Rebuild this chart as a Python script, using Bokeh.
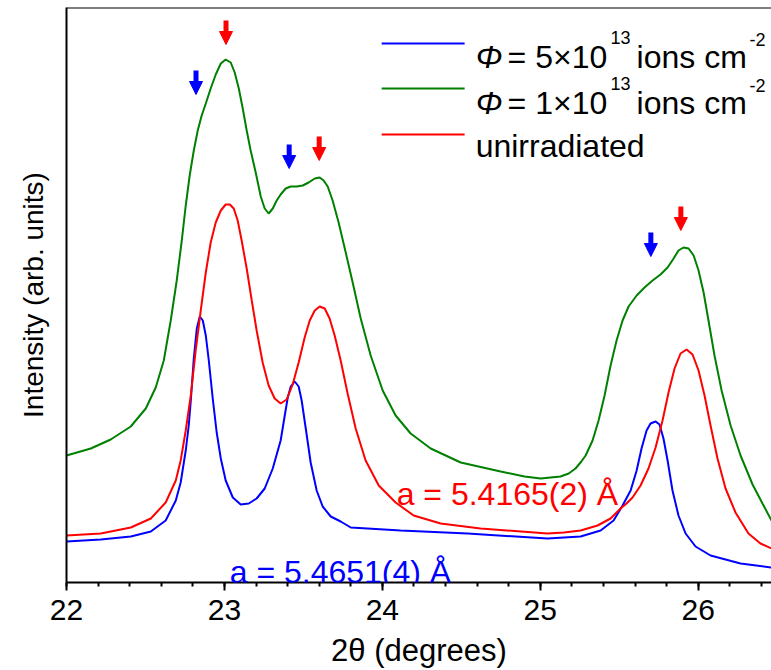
from bokeh.plotting import figure
from bokeh.models import (Label, Arrow, NormalHead, SingleIntervalTicker, Range1d,
                          FixedTicker, Span)
from bokeh.embed import file_html
from bokeh.resources import INLINE

FONT = "Liberation Sans"

# ---- data (2theta in degrees, intensity in arbitrary units) ----
blue_x = [22.00, 22.217, 22.407, 22.534, 22.628, 22.692, 22.723, 22.755, 22.774, 22.787,
          22.806, 22.825, 22.844, 22.863, 22.882, 22.901, 22.926, 22.951, 22.977, 23.008,
          23.053, 23.103, 23.154, 23.204, 23.255, 23.306, 23.356, 23.382, 23.401, 23.420,
          23.445, 23.470, 23.489, 23.515, 23.546, 23.584, 23.622, 23.673, 23.736, 23.80,
          24.116, 24.54, 25.046, 25.255, 25.382, 25.464, 25.521, 25.572, 25.610, 25.641,
          25.673, 25.698, 25.730, 25.755, 25.780, 25.806, 25.837, 25.875, 25.920, 25.983,
          26.078, 26.268, 26.464]
blue_y = [41, 43, 46, 51, 62, 82, 100, 132, 157, 182,
          224, 254, 266, 262, 247, 222, 184, 150, 124, 102,
          85, 78, 79, 84, 94, 114, 142, 167, 185, 196,
          201, 196, 182, 154, 120, 92, 76, 66, 61, 55,
          52, 49, 44, 46, 52, 62, 77, 92, 112, 134,
          152, 159, 161, 158, 144, 122, 92, 67, 49, 36,
          27, 19, 15]

red_x = [22.00, 22.217, 22.407, 22.534, 22.628, 22.692, 22.723, 22.755, 22.787, 22.818,
         22.850, 22.882, 22.913, 22.945, 22.977, 23.008, 23.034, 23.059, 23.084, 23.109,
         23.141, 23.173, 23.204, 23.242, 23.280, 23.318, 23.356, 23.394, 23.432, 23.470,
         23.508, 23.540, 23.572, 23.603, 23.635, 23.666, 23.698, 23.736, 23.780, 23.831,
         23.894, 23.977, 24.084, 24.198, 24.369, 24.622, 25.046, 25.15, 25.255, 25.363,
         25.445, 25.508, 25.546, 25.584, 25.635, 25.685, 25.730, 25.774, 25.812, 25.850,
         25.888, 25.926, 25.964, 26.002, 26.040, 26.078, 26.122, 26.173, 26.236, 26.318,
         26.394, 26.464]
red_y = [47, 49, 55, 64, 80, 102, 122, 152, 187, 232,
         272, 310, 340, 360, 372, 378, 378, 374, 362, 342,
         314, 282, 252, 220, 197, 184, 179, 183, 198, 220,
         245, 262, 272, 276, 274, 264, 247, 222, 189, 154,
         122, 97, 80, 67, 59, 54, 49, 50, 52, 57,
         64, 74, 79, 85, 97, 114, 135, 162, 190, 214,
         229, 233, 228, 212, 187, 157, 124, 94, 70, 49,
         39, 34]

green_x = [22.00, 22.154, 22.280, 22.407, 22.502, 22.565, 22.616, 22.660, 22.698, 22.730,
           22.755, 22.780, 22.806, 22.831, 22.856, 22.882, 22.913, 22.945, 22.977, 23.008,
           23.040, 23.065, 23.091, 23.116, 23.141, 23.166, 23.198, 23.230, 23.255, 23.280,
           23.306, 23.331, 23.356, 23.388, 23.420, 23.458, 23.496, 23.533, 23.572, 23.603,
           23.628, 23.654, 23.685, 23.723, 23.768, 23.812, 23.863, 23.926, 24.002, 24.084,
           24.179, 24.306, 24.496, 24.749, 24.90, 25.002, 25.128, 25.18, 25.223, 25.26,
           25.287, 25.331, 25.369, 25.407, 25.445, 25.483, 25.521, 25.559, 25.610, 25.660,
           25.711, 25.761, 25.806, 25.844, 25.875, 25.907, 25.939, 25.971, 26.002, 26.034,
           26.065, 26.103, 26.148, 26.205, 26.268, 26.344, 26.407, 26.464]
green_y = [127, 134, 143, 156, 174, 195, 222, 262, 302, 342,
           377, 407, 432, 452, 467, 479, 494, 508, 519, 523,
           520, 510, 494, 474, 452, 432, 410, 386, 374, 369,
           374, 382, 388, 394, 396, 396, 397, 400, 404, 405,
           402, 396, 382, 360, 330, 300, 264, 227, 192, 167,
           149, 134, 120, 111, 106, 104, 106, 109, 114, 121,
           127, 142, 162, 187, 217, 242, 262, 276, 287, 295,
           302, 308, 315, 324, 332, 335, 334, 327, 312, 290,
           262, 227, 192, 157, 127, 98, 79, 62]

# peak markers (arrows): position and top of arrow
red_arrow_x = [23.01, 23.60, 25.89]
red_arrow_top = [562, 446, 376]
blue_arrow_x = [22.82, 23.41, 25.70]
blue_arrow_top = [512, 438, 350]
ARROW_LEN = 24

BLUE = "#0000ff"
GREEN = "#008000"
RED = "#ff0000"

# pixel helpers for placing annotations
X0, XSCALE, Y0 = 65.7, 158.0, 582.0
def px2x(px):
    return 22 + (px - X0) / XSCALE
def py2y(py):
    return Y0 - py

p = figure(width=771, height=670, output_backend="svg", toolbar_location=None,
           x_range=Range1d(22, 22 + (771 - X0) / XSCALE), y_range=Range1d(0, 575),
           min_border_left=66, min_border_right=0, min_border_top=7, min_border_bottom=88)
p.outline_line_color = None
p.grid.visible = False
p.background_fill_color = "white"
p.border_fill_color = "white"

# x axis
xa = p.xaxis[0]
xa.ticker = SingleIntervalTicker(interval=1, num_minor_ticks=5)
xa.axis_line_width = 2
xa.major_tick_line_width = 2
xa.minor_tick_line_width = 2
xa.major_tick_in = 0
xa.major_tick_out = 8
xa.minor_tick_in = 0
xa.minor_tick_out = 4
xa.major_label_text_font = FONT
xa.major_label_text_font_size = "30px"
xa.major_label_text_color = "black"
xa.major_label_standoff = 9
xa.axis_line_color = "black"
xa.axis_label = "2θ (degrees)"
xa.axis_label_text_font = FONT
xa.axis_label_text_font_size = "31px"
xa.axis_label_text_font_style = "normal"
xa.axis_label_text_color = "black"
xa.axis_label_standoff = 10

# y axis (no ticks)
ya = p.yaxis[0]
ya.ticker = FixedTicker(ticks=[])
ya.axis_line_width = 2
ya.axis_line_color = "black"
ya.major_tick_in = 0
ya.major_tick_out = 0
ya.minor_tick_in = 0
ya.minor_tick_out = 0
ya.major_label_text_font_size = "0px"
ya.major_label_standoff = 0
ya.axis_label = "Intensity (arb. units)"
ya.axis_label_text_font = FONT
ya.axis_label_text_font_size = "28px"
ya.axis_label_text_font_style = "normal"
ya.axis_label_text_color = "black"
ya.axis_label_standoff = 18

# top frame line
p.add_layout(Span(location=575, dimension="width", line_color="black", line_width=2))

# curves
p.line(blue_x, blue_y, line_color=BLUE, line_width=2)
p.line(green_x, green_y, line_color=GREEN, line_width=2)
p.line(red_x, red_y, line_color=RED, line_width=2)

# arrows
for xs, tops, col in [(red_arrow_x, red_arrow_top, RED), (blue_arrow_x, blue_arrow_top, BLUE)]:
    for x, t in zip(xs, tops):
        p.add_layout(Arrow(x_start=x, y_start=t, x_end=x, y_end=t - ARROW_LEN,
                           line_color=col, line_width=5,
                           end=NormalHead(size=13, fill_color=col, line_color=col, line_width=1)))

def lab(text, px, py, size="32px", color="black", style="normal"):
    p.add_layout(Label(x=px2x(px), y=py2y(py), text=text, text_font=FONT,
                       text_font_size=size, text_color=color, text_font_style=style,
                       text_baseline="alphabetic", text_align="left"))

# lattice parameter annotations
lab("a = 5.4165(2) Å", 396, 493, color=RED)
lab("a = 5.4651(4) Å", 229, 571, color=BLUE)

# legend
leg_y = [43, 88, 134]
leg_col = [BLUE, GREEN, RED]
for yy, c in zip(leg_y, leg_col):
    p.segment(x0=[px2x(381)], y0=[py2y(yy)], x1=[px2x(464)], y1=[py2y(yy)],
              line_color=c, line_width=2)
for yy, num in [(56, "5×10"), (102, "1×10")]:
    lab("Φ", 475, yy, style="italic")
    lab("= " + num, 507, yy)
    lab("13", 610, yy - 19, size="18px")
    lab("ions cm", 636, yy)
    lab("-2", 749, yy - 17, size="18px")
lab("unirradiated", 475, 145)

open("out.html", "w").write(file_html(p, INLINE))
